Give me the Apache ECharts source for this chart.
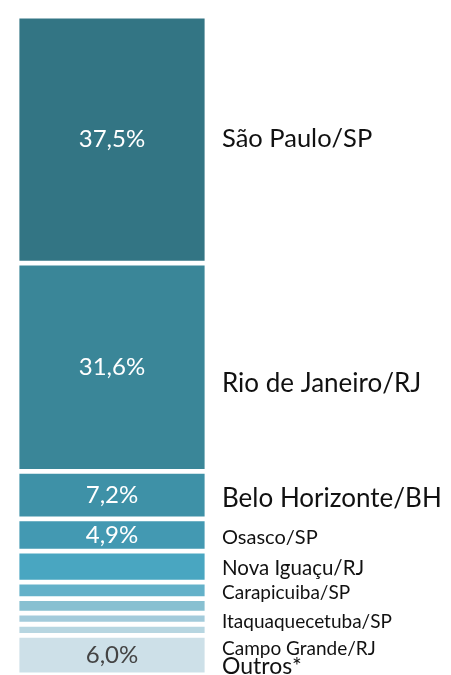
<!DOCTYPE html>
<html>
<head>
<meta charset="utf-8">
<script src="https://cdn.jsdelivr.net/npm/echarts@6/dist/echarts.min.js"></script>
<style>
html,body{margin:0;padding:0;background:#fff;overflow:hidden;}
#chart{width:451px;height:675px;}
</style>
</head>
<body>
<div id="chart"></div>
<script>
// Data
const categories = ['São Paulo/SP','Rio de Janeiro/RJ','Belo Horizonte/BH','Osasco/SP','Nova Iguaçu/RJ','Carapicuiba/SP','','Itaquaquecetuba/SP','Campo Grande/RJ','Outros*'];
const values = [37.5, 31.6, 7.2, 4.9, 4.7, 2.5, 2.2, 1.7, 1.7, 6.0];
const pctShown = [true, true, true, true, false, false, false, false, false, true];

// Styles
const colors = ['#337584','#3a8698','#3e91a7','#4399b2','#49a6c1','#63b1c9','#88c0d1','#a3cbdb','#b7d6e1','#cde0e8'];
const pctColors = ['#fff','#fff','#fff','#fff','#fff','#fff','#fff','#fff','#fff','#444'];
const nameOffsets = [-1, 16, 4, 3, 2, 3, 0, 3, 19, 11];
const nameSizes = [25.5, 26, 26, 20, 20.5, 19, 19, 19, 19, 23];

const fmt = v => v.toFixed(1).replace('.', ',') + '%';
const FONT = 'Lato, "Open Sans", sans-serif';

const series = [];
values.forEach((v, i) => {
  series.push({
    type: 'bar', stack: 'a', barWidth: '100%', silent: true,
    data: [v],
    itemStyle: { color: colors[i], borderColor: '#ffffff', borderWidth: 2.4 },
    label: {
      show: pctShown[i], position: 'inside', formatter: () => fmt(v),
      color: pctColors[i], fontSize: 24, fontFamily: FONT
    }
  });
});
values.forEach((v, i) => {
  series.push({
    type: 'bar', stack: 'b', barWidth: '100%', barGap: '-100%', silent: true,
    data: [v],
    itemStyle: { color: 'rgba(0,0,0,0)' },
    label: {
      show: categories[i] !== '', position: 'right', distance: 15,
      offset: [0, nameOffsets[i]],
      formatter: () => categories[i],
      color: '#111', fontSize: nameSizes[i], fontFamily: FONT
    }
  });
});

const chart = echarts.init(document.getElementById('chart'));
chart.setOption({
  animation: false,
  grid: { left: 17, right: 244, top: 16, bottom: -1 },
  xAxis: { type: 'category', data: [''], show: false },
  yAxis: { type: 'value', min: 0, max: 100, inverse: true, show: false },
  series: series
});
</script>
</body>
</html>
